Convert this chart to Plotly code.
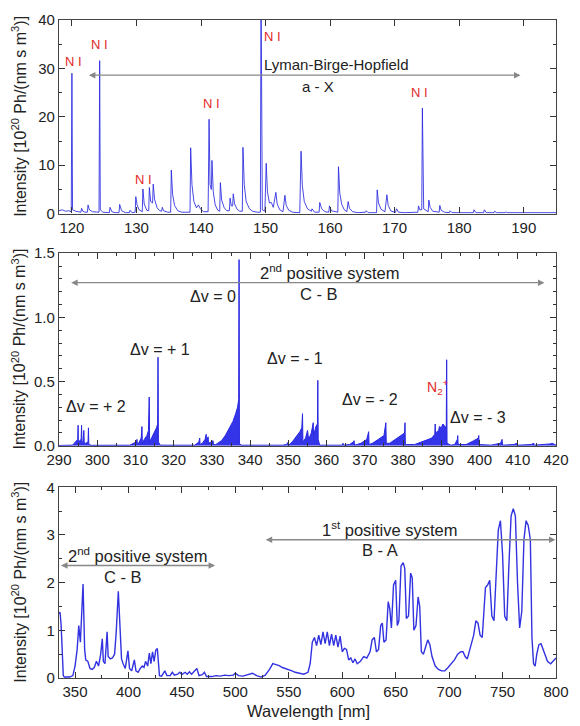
import plotly.graph_objects as go

# ---------------- Panel 1: Lyman-Birge-Hopfield (VUV) ----------------
lbh_wl = [118.0, 118.5, 119.0, 119.5, 119.9, 120.0, 120.1, 120.6, 121.4, 121.5, 121.7, 122.0,
          122.4, 122.5, 122.7, 123.2, 124.2, 124.3, 124.4, 124.8, 125.8, 125.9, 126.2, 126.7,
          127.3, 127.4, 127.7, 128.3, 128.9, 129.0, 129.3, 129.8, 129.9, 130.1, 130.4, 130.9,
          131.0, 131.2, 131.6, 131.9, 132.0, 132.2, 132.5, 132.6, 132.8, 133.2, 133.6, 133.9,
          134.0, 134.2, 134.8, 135.3, 135.4, 135.6, 135.9, 136.4, 137.0, 138.3, 138.4, 138.6,
          138.9, 139.3, 139.6, 139.9, 140.4, 141.1, 141.25, 141.4, 141.6, 141.7, 141.9, 142.2,
          142.6, 142.9, 143.0, 143.2, 143.6, 144.0, 144.4, 144.5, 144.7, 144.9, 145.0, 145.2,
          145.6, 146.0, 146.4, 146.5, 146.7, 147.0, 147.5, 148.0, 148.7, 149.2, 149.3, 149.4,
          149.5, 149.9, 150.1, 150.3, 150.6, 150.9, 151.2, 151.6, 151.8, 152.2, 152.7, 153.0,
          153.2, 153.6, 154.2, 155.3, 155.5, 155.7, 156.0, 156.5, 157.1, 157.2, 157.6, 158.3,
          158.4, 158.7, 159.2, 159.8, 159.9, 160.2, 160.9, 161.2, 161.3, 161.5, 161.8, 162.2,
          162.6, 162.8, 163.0, 163.5, 164.3, 165.5, 165.6, 165.9, 167.2, 167.3, 167.5, 167.9,
          168.5, 168.8, 169.0, 169.4, 170.1, 170.3, 170.6, 171.5, 173.6, 173.7, 173.9, 174.2,
          174.3, 174.35, 174.5, 175.2, 175.3, 175.5, 175.9, 176.9, 177.0, 177.2, 177.7, 178.5,
          178.6, 178.9, 180.0, 182.2, 182.3, 182.6, 183.8, 183.9, 184.2, 185.4, 185.5, 185.8,
          187.1, 187.2, 187.5, 189.7, 189.8, 190.1, 191.3, 191.4, 191.7, 192.8, 192.9, 193.2,
          195.0]
lbh_int = [0.6, 0.8, 0.5, 0.6, 0.4, 29.0, 0.8, 0.5, 0.3, 1.1, 0.5, 0.3,
           0.3, 1.8, 0.8, 0.4, 0.3, 31.6, 0.8, 0.3, 0.2, 1.3, 0.4, 0.2,
           0.2, 1.9, 0.6, 0.2, 0.2, 0.7, 0.2, 0.3, 3.5, 1.8, 0.8, 0.4,
           5.1, 2.0, 0.7, 0.6, 5.4, 2.5, 2.2, 6.1, 3.0, 1.2, 0.6, 0.5,
           1.3, 0.6, 0.3, 0.3, 9.0, 4.0, 1.7, 0.6, 0.3, 0.3, 13.6, 6.0,
           2.5, 1.2, 1.8, 1.0, 0.4, 0.4, 19.5, 6.0, 5.0, 11.0, 4.5, 1.8,
           0.7, 0.5, 6.4, 2.8, 1.2, 0.6, 0.6, 3.2, 1.6, 1.6, 4.1, 2.0,
           0.9, 0.5, 0.5, 13.7, 6.0, 2.5, 1.0, 0.5, 0.3, 0.3, 48.0, 22.6,
           0.8, 0.5, 10.4, 4.5, 2.2, 2.3, 1.3, 4.4, 2.0, 0.8, 0.4, 3.8,
           1.7, 0.7, 0.3, 0.2, 12.9, 5.8, 2.5, 1.0, 0.5, 1.0, 0.3, 0.3,
           2.3, 1.0, 0.4, 0.3, 1.6, 0.6, 0.3, 0.3, 9.7, 4.3, 1.9, 0.8,
           0.4, 2.5, 1.1, 0.4, 0.2, 0.3, 0.6, 0.2, 0.2, 4.9, 2.2, 0.9,
           0.4, 3.9, 1.7, 0.6, 0.2, 1.0, 0.3, 0.2, 0.3, 1.6, 0.8, 0.8,
           21.8, 11.5, 1.0, 0.4, 2.8, 1.3, 0.5, 0.3, 1.7, 0.7, 0.3, 0.2,
           0.6, 0.2, 0.2, 0.2, 0.8, 0.2, 0.2, 0.8, 0.2, 0.2, 0.5, 0.2,
           0.2, 0.35, 0.2, 0.2, 0.3, 0.2, 0.2, 0.3, 0.2, 0.2, 0.3, 0.2,
           0.2]

# ---------------- Panel 2: 2nd positive system (UV) ----------------
sps_wl = [290.0, 293.5, 294.0, 294.6, 294.9, 295.0, 295.05, 295.4, 295.8, 295.9, 296.0, 296.3,
          296.5, 296.6, 297.0, 297.6, 297.7, 297.8, 298.5, 308.5, 309.5, 310.2, 310.4, 310.5,
          311.0, 311.5, 311.7, 311.8, 312.3, 313.0, 313.4, 313.6, 313.7, 314.2, 315.0, 315.5,
          315.8, 315.9, 316.0, 316.5, 325.5, 326.2, 326.6, 326.8, 326.9, 327.5, 328.2, 328.5,
          328.6, 329.0, 329.1, 329.8, 330.3, 330.4, 331.0, 331.5, 332.5, 333.5, 334.5, 335.5,
          336.2, 336.7, 337.0, 337.1, 337.2, 337.6, 348.5, 349.5, 350.0, 350.1, 351.0, 352.0,
          353.0, 353.5, 353.7, 353.8, 354.5, 355.0, 355.3, 356.0, 356.5, 356.6, 357.2, 357.6,
          357.7, 357.8, 358.2, 364.0, 364.3, 364.4, 366.0, 367.0, 367.2, 367.3, 369.0, 370.5,
          371.0, 371.1, 372.0, 373.5, 375.0, 375.5, 375.6, 376.5, 378.0, 379.5, 380.4, 380.5,
          380.6, 383.0, 385.0, 386.0, 387.5, 388.3, 388.4, 388.5, 389.3, 389.5, 390.0, 390.4,
          391.0, 391.3, 391.4, 391.5, 392.5, 393.5, 394.2, 394.3, 394.4, 396.5, 398.5, 399.7,
          399.8, 399.9, 403.0, 405.5, 405.9, 406.0, 409.0, 409.8, 410.0, 413.5, 414.2, 414.3,
          418.5, 419.0, 420.0]
sps_int = [0.003, 0.005, 0.02, 0.04, 0.05, 0.16, 0.03, 0.04, 0.05, 0.16, 0.03, 0.03,
           0.12, 0.02, 0.02, 0.03, 0.14, 0.01, 0.004, 0.005, 0.02, 0.03, 0.05, 0.01,
           0.03, 0.06, 0.15, 0.02, 0.05, 0.08, 0.12, 0.38, 0.03, 0.06, 0.10, 0.14,
           0.17, 0.69, 0.03, 0.005, 0.005, 0.02, 0.03, 0.06, 0.01, 0.02, 0.05, 0.09,
           0.03, 0.07, 0.02, 0.03, 0.04, 0.01, 0.01, 0.02, 0.04, 0.08, 0.13, 0.19,
           0.25, 0.30, 0.36, 1.45, 0.02, 0.005, 0.005, 0.01, 0.03, 0.005, 0.03, 0.07,
           0.11, 0.14, 0.25, 0.03, 0.06, 0.12, 0.05, 0.10, 0.18, 0.08, 0.15, 0.17,
           0.51, 0.05, 0.005, 0.005, 0.02, 0.005, 0.01, 0.03, 0.04, 0.005, 0.02, 0.05,
           0.11, 0.01, 0.02, 0.05, 0.08, 0.18, 0.02, 0.02, 0.05, 0.08, 0.10, 0.18,
           0.01, 0.01, 0.03, 0.04, 0.06, 0.09, 0.17, 0.10, 0.12, 0.15, 0.14, 0.17,
           0.15, 0.13, 0.67, 0.02, 0.005, 0.01, 0.05, 0.08, 0.01, 0.01, 0.04, 0.06,
           0.08, 0.01, 0.005, 0.02, 0.05, 0.005, 0.01, 0.02, 0.005, 0.01, 0.02, 0.005,
           0.015, 0.02, 0.005]

# ---------------- Panel 3: visible / near-IR ----------------
vis_wl = [335, 336, 337, 338, 339, 340, 345, 348, 350, 352, 353.5, 355, 356, 357.5, 359, 360,
          362, 364, 366, 368, 370, 371, 372, 374, 375.5, 376.5, 378, 380, 381, 383, 385, 387,
          388.5, 390.5, 392, 393.5, 395, 397, 399.5, 401, 403, 405.5, 407, 409, 411, 413,
          414.5, 416, 418, 419.5, 421, 422.5, 424, 425.5, 427, 428, 429, 431, 434, 436, 439,
          441, 443, 446, 448, 450, 453, 455, 457, 459, 461, 464, 466, 469, 471, 473, 478,
          482, 486, 490, 494, 498, 500, 503, 507, 512, 516, 520, 524, 528, 532, 535, 538,
          541, 544, 547, 550, 553, 556, 560, 564, 568, 570, 572, 574, 576, 578, 580, 582,
          584, 586, 588, 590, 592, 594, 596, 598, 600, 602, 604, 606, 608, 610, 612, 614,
          617, 620, 623, 626, 628, 630, 632, 634, 636, 637.5, 639, 641, 643, 644.5, 646, 648,
          650, 651.5, 653, 655, 657, 658.5, 660, 662, 664, 665.5, 667, 669, 671, 672.5, 674,
          676, 678, 680, 682, 684, 687, 690, 693, 696, 699, 702, 705, 708, 711, 713, 715,
          717, 719, 721, 723, 725, 727, 729, 731, 734, 736, 738, 740, 742, 744, 746, 748,
          750, 752, 754, 756, 758, 760, 762, 764, 766, 768, 770, 772, 774, 776, 777.5, 779,
          780.5, 782, 784, 786, 788, 790, 792, 795, 798, 800]
vis_int = [1.35, 1.38, 1.1, 0.5, 0.05, 0.02, 0.02, 0.05, 0.25, 0.6, 1.1, 0.75, 1.2, 1.97, 0.6, 0.38,
           0.35, 0.2, 0.18, 0.22, 0.35, 0.3, 0.25, 0.5, 0.82, 0.35, 0.3, 0.97, 0.45, 0.4, 0.42, 0.5,
           0.95, 1.82, 0.9, 0.4, 0.3, 0.2, 0.57, 0.2, 0.15, 0.38, 0.15, 0.12, 0.2, 0.25,
           0.22, 0.35, 0.25, 0.52, 0.3, 0.55, 0.35, 0.58, 0.62, 0.35, 0.05, 0.04, 0.15, 0.05, 0.05,
           0.12, 0.06, 0.08, 0.12, 0.07, 0.12, 0.08, 0.13, 0.08, 0.12, 0.2, 0.05, 0.07, 0.12, 0.03, 0.03,
           0.05, 0.04, 0.06, 0.05, 0.06, 0.1, 0.05, 0.04, 0.08, 0.1, 0.05, 0.02, 0.06, 0.18, 0.3, 0.28,
           0.26, 0.22, 0.2, 0.18, 0.15, 0.12, 0.1, 0.08, 0.12, 0.3, 0.75, 0.85, 0.68, 0.9, 0.7, 0.97,
           0.72, 0.97, 0.68, 0.92, 0.68, 0.9, 0.65, 0.88, 0.55, 0.62, 0.6, 0.38, 0.42, 0.32, 0.4, 0.3,
           0.35, 0.45, 0.42, 0.55, 0.8, 0.85, 0.55, 0.6, 1.1, 1.15, 0.75, 0.8, 1.6, 1.45, 1.05, 1.95,
           2.05, 1.1, 1.2, 2.35, 2.42, 2.3, 1.25, 1.3, 2.2, 2.1, 1.0, 1.1, 1.7, 1.5, 0.55,
           0.5, 0.65, 0.8, 0.7, 0.45, 0.25, 0.18, 0.15, 0.15, 0.22, 0.3, 0.38, 0.5, 0.55, 0.55, 0.45,
           0.4, 0.55, 0.7, 0.9, 1.2, 1.15, 0.9, 0.85, 1.9, 1.95, 2.05, 1.3, 1.2, 2.2, 3.1, 3.3,
           2.6, 1.3, 1.2, 2.4, 3.4, 3.55, 3.4, 2.0, 1.05, 1.4, 2.9, 3.3, 3.2, 2.9, 0.85, 0.3,
           0.25, 0.5, 0.7, 0.72, 0.6, 0.5, 0.35, 0.3, 0.38, 0.42]

# tick labels
top_xticks = [120, 130, 140, 150, 160, 170, 180, 190]
top_yticks = [0, 10, 20, 30, 40]
mid_xticks = [290, 300, 310, 320, 330, 340, 350, 360, 370, 380, 390, 400, 410, 420]
mid_yticks = [0.0, 0.5, 1.0, 1.5]
bot_xticks = [350, 400, 450, 500, 550, 600, 650, 700, 750, 800]
bot_yticks = [0, 1, 2, 3, 4]

FONT = "Liberation Sans, Arial, sans-serif"
TXT = "#222222"
BLUE = "rgb(40,40,225)"
RED = "rgb(225,40,40)"
ARROW = "#888888"
YTITLE = "Intensity [10<sup>20</sup> Ph/(nm s m<sup>3</sup>)]"
TICKSIZE = 15

fig = go.Figure()
fig.add_trace(go.Scatter(x=lbh_wl, y=lbh_int, mode="lines", xaxis="x", yaxis="y",
                         line=dict(color="rgba(40,40,225,0.85)", width=1), showlegend=False))
fig.add_trace(go.Scatter(x=sps_wl, y=sps_int, mode="lines", xaxis="x2", yaxis="y2",
                         fill="tozeroy", fillcolor="rgba(30,30,230,0.9)",
                         line=dict(color=BLUE, width=1), showlegend=False))
fig.add_trace(go.Scatter(x=vis_wl, y=vis_int, mode="lines", xaxis="x3", yaxis="y3",
                         line=dict(color="rgb(50,50,225)", width=1.4), showlegend=False))

H = 666.0
dom_top = [(678 - 208) / H, 1.0]
dom_mid = [(678 - 443) / H, (678 - 248) / H]
dom_bot = [0.0, (678 - 485) / H]


def xax(rng, ticks, dom_anchor, minor_dtick):
    d = dict(range=rng, tickvals=ticks, ticks="inside", ticklen=6, tickwidth=1.2,
             tickcolor="#333", showline=True, linecolor="#444", linewidth=1.3, mirror="allticks",
             showgrid=False, zeroline=False, anchor=dom_anchor, domain=[0, 1],
             ticklabeloverflow="allow",
             tickfont=dict(family=FONT, size=TICKSIZE, color=TXT))
    if minor_dtick:
        d["minor"] = dict(dtick=minor_dtick, ticks="inside", ticklen=3, tickwidth=1, tickcolor="#333")
    return d


def yax(rng, ticks, dom, anchor, minor_dtick, fmt=None):
    d = dict(range=rng, tickvals=ticks, ticks="inside", ticklen=6, tickwidth=1.2,
             tickcolor="#333", showline=True, linecolor="#444", linewidth=1.3, mirror="allticks",
             showgrid=False, zeroline=False, anchor=anchor, domain=dom,
             ticklabeloverflow="allow",
             tickfont=dict(family=FONT, size=TICKSIZE, color=TXT))
    if fmt:
        d["tickformat"] = fmt
    d["minor"] = dict(dtick=minor_dtick, ticks="inside", ticklen=3, tickwidth=1, tickcolor="#333")
    return d


fig.update_layout(
    width=580, height=726,
    margin=dict(l=59, r=11, t=12, b=48),
    paper_bgcolor="white", plot_bgcolor="white",
    font=dict(family=FONT, size=15, color=TXT),
    xaxis=xax([118, 195], top_xticks, "y", None),
    yaxis=yax([0, 40], top_yticks, dom_top, "x", 5),
    xaxis2=xax([290, 420], mid_xticks, "y2", 5),
    yaxis2=yax([0, 1.5], mid_yticks, dom_mid, "x2", 0.1, ".1f"),
    xaxis3=xax([335, 800], bot_xticks, "y3", 25),
    yaxis3=yax([0, 4], bot_yticks, dom_bot, "x3", 0.5),
)

ann = []


def label(x, y, text, xr, yr, color=TXT, size=16):
    ann.append(dict(x=x, y=y, xref=xr, yref=yr, text=text, showarrow=False,
                    font=dict(family=FONT, size=size, color=color), xanchor="center", yanchor="middle"))


def darrow(x0, x1, y, xr, yr):
    ann.append(dict(x=x1, y=y, ax=x0, ay=y, xref=xr, yref=yr, axref=xr, ayref=yr, text="",
                    showarrow=True, arrowhead=2, arrowside="end+start", arrowsize=1,
                    arrowwidth=1.3, arrowcolor=ARROW))


# top panel
for (x, y) in [(120.3, 31.5), (124.2, 35.0), (131.1, 7.0), (141.7, 22.7), (151.0, 36.5), (173.9, 25.1)]:
    label(x, y, "N I", "x", "y", RED, 13)
darrow(122.4, 189.5, 28.6, "x", "y")
label(161.0, 30.9, "Lyman-Birge-Hopfield", "x", "y", size=15)
label(158.2, 26.3, "a - X", "x", "y", size=15)

# middle panel
darrow(292.8, 417.0, 1.27, "x2", "y2")
label(360.8, 1.35, "2<sup>nd</sup> positive system", "x2", "y2", size=16.5)
label(357.9, 1.18, "C - B", "x2", "y2", size=16.5)
label(330.2, 1.16, "Δv = 0", "x2", "y2")
label(316.4, 0.75, "Δv = + 1", "x2", "y2")
label(299.7, 0.31, "Δv = + 2", "x2", "y2")
label(351.6, 0.68, "Δv = - 1", "x2", "y2")
label(371.4, 0.36, "Δv = - 2", "x2", "y2")
label(399.6, 0.22, "Δv = - 3", "x2", "y2")
label(389.2, 0.46, "N<sub>2</sub><sup>+</sup>", "x2", "y2", RED, 14)

# bottom panel
darrow(335.5, 481.0, 2.36, "x3", "y3")
label(408.5, 2.58, "2<sup>nd</sup> positive system", "x3", "y3", size=16.5)
label(395.0, 2.12, "C - B", "x3", "y3", size=16.5)
darrow(527.0, 799.5, 2.9, "x3", "y3")
label(645.0, 3.12, "1<sup>st</sup> positive system", "x3", "y3", size=16.5)
label(635.0, 2.68, "B - A", "x3", "y3", size=16.5)

# y-axis titles and x-axis title
for dom in (dom_top, dom_mid, dom_bot):
    ann.append(dict(x=(18 - 59) / 510.0, y=(dom[0] + dom[1]) / 2, xref="paper", yref="paper",
                    text=YTITLE, textangle=-90, showarrow=False,
                    font=dict(family=FONT, size=16, color=TXT), xanchor="center", yanchor="middle"))
ann.append(dict(x=(315 - 59) / 510.0, y=(678 - 711) / H, xref="paper", yref="paper",
                text="Wavelength [nm]", showarrow=False,
                font=dict(family=FONT, size=16.5, color=TXT), xanchor="center", yanchor="middle"))

fig.update_layout(annotations=ann)
fig.write_html("out.html", config={"displayModeBar": False},
               post_script="document.body.style.margin='0';document.body.style.padding='0';")
